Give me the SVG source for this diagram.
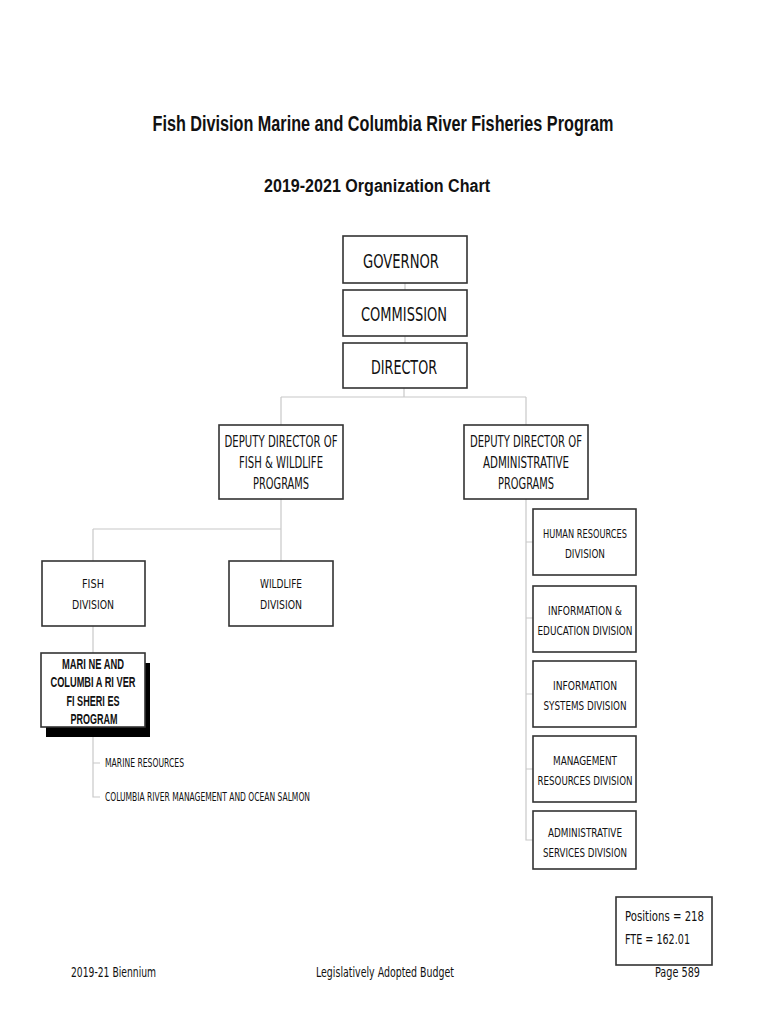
<svg xmlns="http://www.w3.org/2000/svg" width="770" height="1024" viewBox="0 0 770 1024">
<style>
.bg{fill:#fff}
.box{fill:#fff;stroke:#333;stroke-width:1.6}
.conn line,.conn path{stroke:#c8c8c8;stroke-width:1.2;fill:none}
.t{font-family:"DejaVu Sans Condensed","DejaVu Sans",sans-serif;fill:#111;text-anchor:middle}
.tl{font-family:"DejaVu Sans Condensed","DejaVu Sans",sans-serif;fill:#111}
.h{font-family:"Liberation Sans Narrow","Liberation Sans",Arial,sans-serif;font-weight:bold;fill:#111;text-anchor:middle}
.b{font-family:"Liberation Sans Narrow","Liberation Sans",Arial,sans-serif;font-weight:bold;fill:#111;text-anchor:middle;font-size:14px}
</style>
<rect class="bg" x="0" y="0" width="770" height="1024"/>
<text class="h" x="383" y="131" font-size="22" textLength="461" lengthAdjust="spacingAndGlyphs">Fish Division Marine and Columbia River Fisheries Program</text>
<text class="h" x="377" y="192" font-size="18" textLength="226" lengthAdjust="spacingAndGlyphs">2019-2021 Organization Chart</text>

<g class="conn">
<line x1="405" y1="283" x2="405" y2="290"/>
<line x1="405" y1="336" x2="405" y2="343"/>
<line x1="404" y1="388" x2="404" y2="397"/>
<line x1="281" y1="397" x2="526" y2="397"/>
<line x1="281" y1="397" x2="281" y2="425"/>
<line x1="526" y1="397" x2="526" y2="425"/>
<line x1="281" y1="499" x2="281" y2="561"/>
<line x1="93" y1="529" x2="281" y2="529"/>
<line x1="93" y1="529" x2="93" y2="561"/>
<line x1="93" y1="626" x2="93" y2="653"/>
<path d="M93 727 V797 H100 M93 763 H100"/>
<path d="M526 499 V840 H533 M526 542 H533 M526 618 H533 M526 694 H533 M526 769 H533"/>
</g>

<g id="governor"><rect class="box" x="343" y="236" width="124" height="47"/>
<text class="t" x="401" y="268" font-size="20" textLength="76" lengthAdjust="spacingAndGlyphs">GOVERNOR</text></g>
<g id="commission"><rect class="box" x="343" y="290" width="124" height="46"/>
<text class="t" x="404" y="321" font-size="20" textLength="86" lengthAdjust="spacingAndGlyphs">COMMISSION</text></g>
<g id="director"><rect class="box" x="343" y="343" width="124" height="45"/>
<text class="t" x="404" y="374" font-size="20" textLength="66" lengthAdjust="spacingAndGlyphs">DIRECTOR</text></g>

<g id="deputy-fw"><rect class="box" x="219" y="425" width="124" height="74"/>
<text class="t" x="281" y="447" font-size="15.5" textLength="113" lengthAdjust="spacingAndGlyphs">DEPUTY DIRECTOR OF</text>
<text class="t" x="281" y="468" font-size="15.5" textLength="84" lengthAdjust="spacingAndGlyphs">FISH &amp; WILDLIFE</text>
<text class="t" x="281" y="489" font-size="15.5" textLength="56" lengthAdjust="spacingAndGlyphs">PROGRAMS</text></g>
<g id="deputy-admin"><rect class="box" x="464" y="425" width="124" height="74"/>
<text class="t" x="526" y="447" font-size="15.5" textLength="112" lengthAdjust="spacingAndGlyphs">DEPUTY DIRECTOR OF</text>
<text class="t" x="526" y="468" font-size="15.5" textLength="86" lengthAdjust="spacingAndGlyphs">ADMINISTRATIVE</text>
<text class="t" x="526" y="489" font-size="15.5" textLength="56" lengthAdjust="spacingAndGlyphs">PROGRAMS</text></g>

<g id="fish-division"><rect class="box" x="42" y="561" width="103" height="65"/>
<text class="t" x="93" y="588" font-size="13" textLength="22" lengthAdjust="spacingAndGlyphs">FISH</text>
<text class="t" x="93" y="609" font-size="13" textLength="42" lengthAdjust="spacingAndGlyphs">DIVISION</text></g>
<g id="wildlife-division"><rect class="box" x="229" y="561" width="104" height="65"/>
<text class="t" x="281" y="588" font-size="13" textLength="42" lengthAdjust="spacingAndGlyphs">WILDLIFE</text>
<text class="t" x="281" y="609" font-size="13" textLength="42" lengthAdjust="spacingAndGlyphs">DIVISION</text></g>

<g id="marine-program">
<rect x="46" y="663" width="104" height="74" fill="#000"/>
<rect class="box" x="41" y="653" width="104" height="74"/>
<text class="b" x="93" y="669" textLength="62" lengthAdjust="spacingAndGlyphs">MARI NE AND</text>
<text class="b" x="93" y="687" textLength="85" lengthAdjust="spacingAndGlyphs">COLUMBI A RI VER</text>
<text class="b" x="93" y="706" textLength="53" lengthAdjust="spacingAndGlyphs">FI SHERI ES</text>
<text class="b" x="94" y="724" textLength="47" lengthAdjust="spacingAndGlyphs">PROGRAM</text></g>
<g id="marine-resources"><text class="tl" x="105" y="767" font-size="12" textLength="79" lengthAdjust="spacingAndGlyphs">MARINE RESOURCES</text></g>
<g id="columbia-river"><text class="tl" x="105" y="801" font-size="12" textLength="205" lengthAdjust="spacingAndGlyphs">COLUMBIA RIVER MANAGEMENT AND OCEAN SALMON</text></g>

<g id="hr"><rect class="box" x="533" y="509" width="103" height="66"/>
<text class="t" x="585" y="538" font-size="13" textLength="84" lengthAdjust="spacingAndGlyphs">HUMAN RESOURCES</text>
<text class="t" x="585" y="558" font-size="13" textLength="40" lengthAdjust="spacingAndGlyphs">DIVISION</text></g>
<g id="info-ed"><rect class="box" x="533" y="586" width="103" height="66"/>
<text class="t" x="585" y="615" font-size="13" textLength="74" lengthAdjust="spacingAndGlyphs">INFORMATION &amp;</text>
<text class="t" x="585" y="635" font-size="13" textLength="95" lengthAdjust="spacingAndGlyphs">EDUCATION DIVISION</text></g>
<g id="info-sys"><rect class="box" x="533" y="661" width="103" height="66"/>
<text class="t" x="585" y="690" font-size="13" textLength="64" lengthAdjust="spacingAndGlyphs">INFORMATION</text>
<text class="t" x="585" y="710" font-size="13" textLength="83" lengthAdjust="spacingAndGlyphs">SYSTEMS DIVISION</text></g>
<g id="mgmt"><rect class="box" x="533" y="736" width="103" height="66"/>
<text class="t" x="585" y="765" font-size="13" textLength="64" lengthAdjust="spacingAndGlyphs">MANAGEMENT</text>
<text class="t" x="585" y="785" font-size="13" textLength="95" lengthAdjust="spacingAndGlyphs">RESOURCES DIVISION</text></g>
<g id="admin-svc"><rect class="box" x="533" y="811" width="103" height="58"/>
<text class="t" x="585" y="837" font-size="13" textLength="74" lengthAdjust="spacingAndGlyphs">ADMINISTRATIVE</text>
<text class="t" x="585" y="857" font-size="13" textLength="84" lengthAdjust="spacingAndGlyphs">SERVICES DIVISION</text></g>

<g id="positions"><rect class="box" x="616" y="897" width="96" height="68"/>
<text class="tl" x="625" y="921" font-size="14" textLength="79" lengthAdjust="spacingAndGlyphs">Positions = 218</text>
<text class="tl" x="625" y="944" font-size="14" textLength="65" lengthAdjust="spacingAndGlyphs">FTE = 162.01</text></g>

<text class="tl" x="71" y="977" font-size="14" textLength="85" lengthAdjust="spacingAndGlyphs">2019-21 Biennium</text>
<text class="tl" x="316" y="977" font-size="14" textLength="138" lengthAdjust="spacingAndGlyphs">Legislatively Adopted Budget</text>
<text class="tl" x="655" y="977" font-size="14" textLength="45" lengthAdjust="spacingAndGlyphs">Page 589</text>
</svg>
